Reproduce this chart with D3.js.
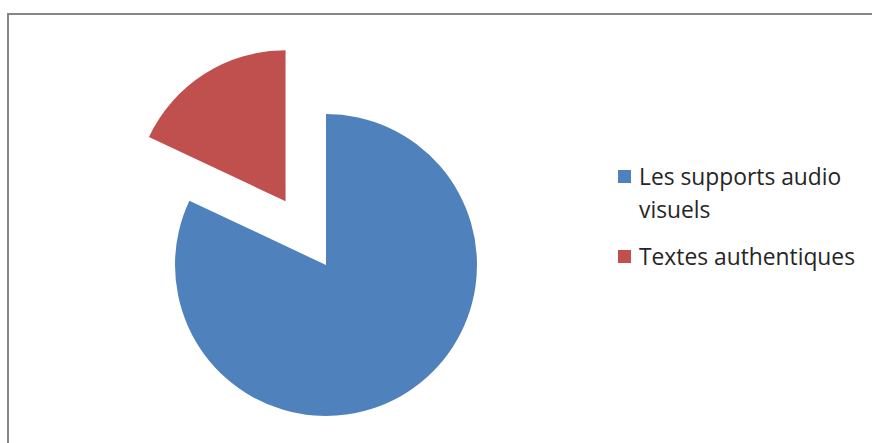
<!DOCTYPE html>
<html>
<head>
<meta charset="utf-8">
<script src="https://cdn.jsdelivr.net/npm/d3@7"></script>
<style>
  html, body { margin: 0; padding: 0; background: #fff; }
  svg { display: block; }
</style>
</head>
<body>
<svg id="chart" width="872" height="443"></svg>
<script>
// Share of teaching materials
const categories = ["Les supports audio visuels", "Textes authentiques"];
const values = [82, 18];
const legendLines = [["Les supports audio", "visuels"], ["Textes authentiques"]];
const colors = ["#4F81BD", "#C0504D"];
const exploded = [false, true];

const width = 872, height = 443;
const svg = d3.select("#chart");

// chart area frame
svg.append("rect")
  .attr("x", 8).attr("y", 14)
  .attr("width", width + 10).attr("height", height + 10)
  .attr("fill", "#fff")
  .attr("stroke", "#868686")
  .attr("stroke-width", 2);

const cx = 326, cy = 265, radius = 151;
const explodeDist = radius * 0.5;

const pie = d3.pie().sort(null).value(d => d.value);
const arcs = pie(categories.map((c, i) => ({ name: c, value: values[i], i })));
const arc = d3.arc().innerRadius(0).outerRadius(radius);

const g = svg.append("g").attr("transform", `translate(${cx},${cy})`);
g.selectAll("path")
  .data(arcs)
  .join("path")
  .attr("d", arc)
  .attr("fill", d => colors[d.data.i])
  .attr("transform", d => {
    if (!exploded[d.data.i]) return null;
    const mid = (d.startAngle + d.endAngle) / 2;
    return `translate(${Math.sin(mid) * explodeDist},${-Math.cos(mid) * explodeDist})`;
  });

// legend
const legend = svg.append("g").attr("transform", "translate(618,0)");
const legendY = [170, 250];
const lineH = 33;
categories.forEach((c, i) => {
  const item = legend.append("g").attr("transform", `translate(0,${legendY[i]})`);
  item.append("rect")
    .attr("width", 13).attr("height", 13)
    .attr("fill", colors[i]);
  const t = item.append("text")
    .attr("x", 21).attr("y", 15)
    .attr("font-family", "'Open Sans', sans-serif")
    .attr("font-size", 22.8)
    .attr("fill", "#262626");
  legendLines[i].forEach((ln, k) => {
    t.append("tspan").attr("x", 21).attr("dy", k === 0 ? 0 : lineH).text(ln);
  });
});
</script>
</body>
</html>
